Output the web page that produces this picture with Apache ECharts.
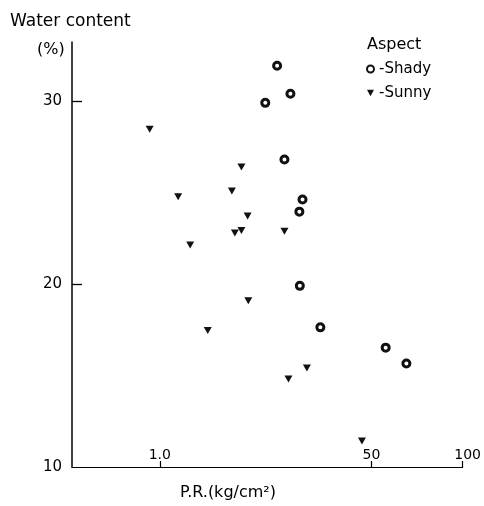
<!DOCTYPE html>
<html>
<head>
<meta charset="utf-8">
<script src="https://cdn.jsdelivr.net/npm/echarts@6/dist/echarts.min.js"></script>
<style>
html,body{margin:0;padding:0;background:#fff;}
#chart{width:484px;height:506px;}
</style>
</head>
<body>
<div id="chart"></div>
<script>
// P.R. (kg/cm2) and water content (%)
const shadyPR    = [24.4, 27.0, 22.3, 25.8, 29.6, 28.9, 29.0, 33.9, 55.7, 65.2];
const shadyWater = [31.95, 30.42, 29.92, 26.82, 24.63, 23.97, 19.91, 17.64, 16.53, 15.66];
const sunnyPR    = [9.26, 18.6, 17.3, 11.5, 19.5, 18.6, 17.7, 25.8, 12.6, 19.6, 14.4, 30.6, 26.6, 46.5];
const sunnyWater = [28.48, 26.41, 25.10, 24.79, 23.73, 22.94, 22.80, 22.90, 22.14, 19.10, 17.47, 15.41, 14.82, 11.42];
const xTickValues = [10, 50, 100];
const xTickLabels = ['1.0', '50', '100'];
const yTickValues = [10, 20, 30];
const yTickLabels = ['10', '20', '30'];

const FONT = 'DejaVu Sans';
const pairs = (xs, ys) => xs.map((x, i) => [x, ys[i]]);

const chart = echarts.init(document.getElementById('chart'), null, {renderer: 'canvas'});
chart.setOption({
  animation: false,
  backgroundColor: '#fff',
  grid: {left: 72, right: 18, top: 42, bottom: 39, containLabel: false},
  xAxis: {
    type: 'log', logBase: 10, min: 5.13, max: 100,
    axisLine: {show: true, lineStyle: {color: '#000', width: 1.2}},
    axisTick: {show: true, inside: true, length: 6, customValues: xTickValues, lineStyle: {color: '#000', width: 1.2}},
    minorTick: {show: false},
    splitLine: {show: false},
    axisLabel: {
      inside: true, margin: 5, customValues: xTickValues,
      fontFamily: FONT, fontSize: 14, color: '#000',
      formatter: function (v) {
        let i = xTickValues.findIndex(t => Math.abs(t - v) < 1e-6 * t);
        if (i < 0) return '';
        if (i === xTickValues.length - 1) return '{r|' + xTickLabels[i] + '}';
        return xTickLabels[i];
      },
      rich: {r: {fontFamily: FONT, fontSize: 14, color: '#000', padding: [0, 0, 0, 10]}}
    }
  },
  yAxis: {
    type: 'value', min: 10, max: 33.25, interval: 10,
    axisLine: {show: true, lineStyle: {color: '#000', width: 1.5}},
    axisTick: {show: true, inside: true, length: 10, customValues: [20, 30], lineStyle: {color: '#000', width: 1.3}},
    splitLine: {show: false},
    axisLabel: {
      margin: 10, customValues: yTickValues,
      fontFamily: FONT, fontSize: 15, color: '#000',
      formatter: function (v) {
        let i = yTickValues.findIndex(t => Math.abs(t - v) < 1e-6);
        return i < 0 ? '' : yTickLabels[i];
      }
    }
  },
  legend: {
    orient: 'vertical', left: 366, top: 61, padding: 0,
    itemWidth: 7, itemHeight: 7, itemGap: 8,
    formatter: '-{name}',
    textStyle: {fontFamily: FONT, fontSize: 15, color: '#000', lineHeight: 16},
    data: [
      {name: 'Shady'},
      {name: 'Sunny', icon: 'path://M0,0 L10,0 L5,9 Z'}
    ]
  },
  graphic: [
    {type: 'text', x: 10, y: 22, style: {text: 'Water content', fontFamily: FONT, fontSize: 17, fill: '#000', verticalAlign: 'middle'}},
    {type: 'text', x: 37, y: 50, style: {text: '(%)', fontFamily: FONT, fontSize: 16, fill: '#000', verticalAlign: 'middle'}},
    {type: 'text', x: 367, y: 45, style: {text: 'Aspect', fontFamily: FONT, fontSize: 16, fill: '#000', verticalAlign: 'middle'}},
    {type: 'text', x: 180, y: 493, style: {text: 'P.R.(kg/cm²)', fontFamily: FONT, fontSize: 16, fill: '#000', verticalAlign: 'middle'}}
  ],
  series: [
    {
      name: 'Shady', type: 'scatter', symbol: 'circle', symbolSize: 7,
      itemStyle: {color: '#fff', borderColor: '#111', borderWidth: 3, opacity: 1},
      data: pairs(shadyPR, shadyWater)
    },
    {
      name: 'Sunny', type: 'scatter', symbol: 'triangle', symbolSize: [8, 7], symbolRotate: 180,
      itemStyle: {color: '#111', opacity: 1},
      data: pairs(sunnyPR, sunnyWater)
    }
  ]
});
</script>
</body>
</html>
